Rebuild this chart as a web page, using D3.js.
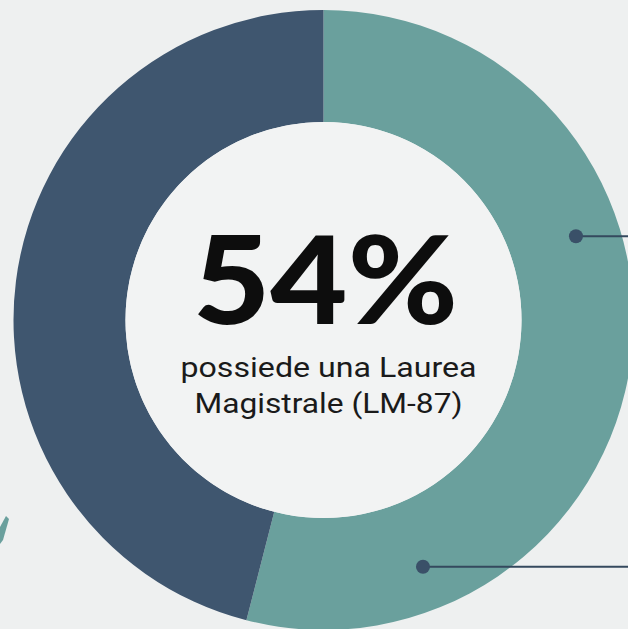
<!DOCTYPE html>
<html>
<head>
<meta charset="utf-8">
<script src="https://cdn.jsdelivr.net/npm/d3@7"></script>
<style>
  html, body { margin: 0; padding: 0; background: #eef0f0; overflow: hidden; }
</style>
</head>
<body>
<div id="canvas"></div>
<script>
"use strict";

/* Data */
let categories = ["Laurea Magistrale (LM-87)", "Altro"];
let values = [54, 46];
let sliceColors = ["#6aa09d", "#3f566f"];
let bigLabel = "54%";
let subLines = ["possiede una Laurea", "Magistrale (LM-87)"];
// callout dots, as percent of the full turn
let calloutAt = [19.9, 43.9];

/* Drawing config */
let svgWidth = 628;
let svgHeight = 629;
let cx = 323.5;
let cy = 320;
let outerR = 310;
let innerR = 198;
let subWidths = [296, 268]; // text looks stretched a bit sideways in the original

let svg = d3.select("#canvas")
  .append("svg")
  .attr("width", svgWidth)
  .attr("height", svgHeight);

svg.append("rect")
  .attr("width", svgWidth)
  .attr("height", svgHeight)
  .attr("fill", "#eef0f0");

/* small teal piece peeking in at bottom left */
svg.append("path")
  .attr("d", "M0,527 L6,516 L9,519 L3,540 L0,544 Z")
  .attr("fill", "#6aa09d");

let pieData = d3.pie().sort(null)(values);

let arc = d3.arc()
  .innerRadius(innerR)
  .outerRadius(outerR);

let g = svg.append("g")
  .attr("transform", "translate(" + cx + "," + cy + ")");

g.selectAll("path.slice")
  .data(pieData)
  .enter()
  .append("path")
  .attr("class", "slice")
  .attr("d", arc)
  .attr("fill", (d, i) => sliceColors[i]);

/* center disc */
g.append("circle")
  .attr("r", innerR)
  .attr("fill", "#f2f3f3");

/* callouts */
let angleScale = d3.scaleLinear().domain([0, 100]).range([0, 2 * Math.PI]);
let calloutR = 266;

calloutAt.forEach(p => {
  let a = angleScale(p);
  let x = Math.sin(a) * calloutR;
  let y = -Math.cos(a) * calloutR;
  g.append("line")
    .attr("x1", x)
    .attr("y1", y)
    .attr("x2", svgWidth - cx + 5)
    .attr("y2", y)
    .attr("stroke", "#34495e")
    .attr("stroke-width", 2);
  g.append("circle")
    .attr("cx", x)
    .attr("cy", y)
    .attr("r", 7)
    .attr("fill", "#3a5068");
});

/* center text */
g.append("text")
  .attr("x", 2)
  .attr("y", 4)
  .attr("text-anchor", "middle")
  .attr("font-family", "Lato, sans-serif")
  .attr("font-weight", 900)
  .attr("font-size", "122px")
  .attr("fill", "#0d0d0d")
  .attr("textLength", 265)
  .attr("lengthAdjust", "spacingAndGlyphs")
  .text(bigLabel);

subLines.forEach((line, i) => {
  g.append("text")
    .attr("x", 5)
    .attr("y", 57 + i * 36)
    .attr("text-anchor", "middle")
    .attr("font-family", "Roboto, sans-serif")
    .attr("font-size", "28px")
    .attr("fill", "#1a1a1a")
    .attr("textLength", subWidths[i])
    .attr("lengthAdjust", "spacingAndGlyphs")
    .text(line);
});
</script>
</body>
</html>
